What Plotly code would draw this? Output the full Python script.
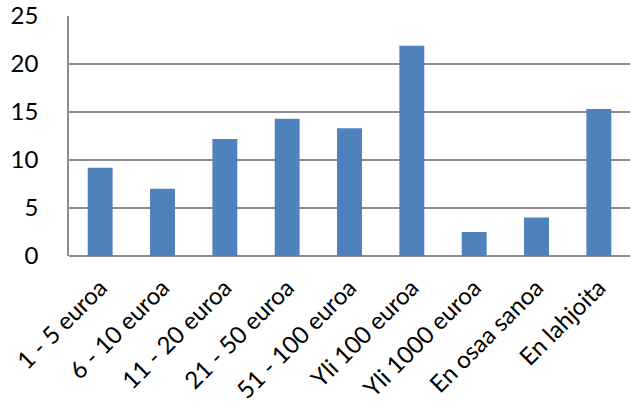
import plotly.graph_objects as go

categories = ["1 - 5 euroa", "6 - 10 euroa", "11 - 20 euroa", "21 - 50 euroa",
              "51 - 100 euroa", "Yli 100 euroa", "Yli 1000 euroa",
              "En osaa sanoa", "En lahjoita"]
values = [9.2, 7.0, 12.2, 14.3, 13.3, 21.9, 2.5, 4.0, 15.3]
y_ticks = [0, 5, 10, 15, 20, 25]

fig = go.Figure(go.Bar(
    x=categories, y=values,
    marker=dict(color="#4F81BD", line=dict(width=0)),
    width=0.4,
))

font_family = "Lato, Open Sans, sans-serif"

fig.update_layout(
    width=636, height=406,
    margin=dict(l=69, r=6, t=16, b=150),
    plot_bgcolor="white", paper_bgcolor="white",
    showlegend=False,
    font=dict(family=font_family, size=22, color="#000000"),
    xaxis=dict(
        tickangle=-45, showgrid=False, showline=False, automargin=False,
        ticks="", tickfont=dict(size=24), ticklabelstandoff=12,
    ),
    yaxis=dict(
        range=[0, 25], tickvals=y_ticks, showgrid=True, automargin=False,
        gridcolor="#8C8C8C", gridwidth=1.5,
        showline=True, linecolor="#8C8C8C", linewidth=1.5,
        ticks="", ticklen=0, zeroline=True, zerolinecolor="#8C8C8C",
        zerolinewidth=1.5, tickfont=dict(size=24), ticklabelstandoff=24,
    ),
)

fig.write_html("out.html")
